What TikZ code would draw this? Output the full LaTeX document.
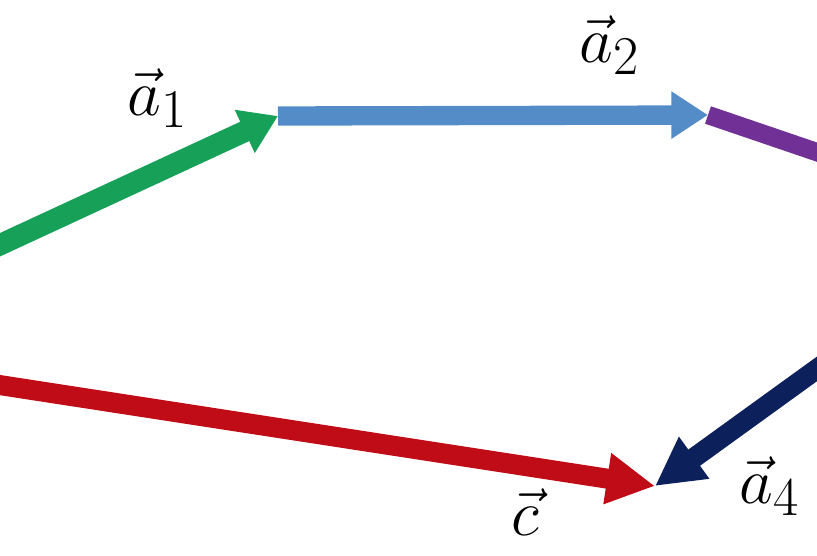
\documentclass[tikz,border=0pt]{standalone}
\usepackage{graphicx}
\usetikzlibrary{arrows.meta}
\definecolor{cgreen}{RGB}{22,160,88}
\definecolor{cblue}{RGB}{84,140,200}
\definecolor{cpurple}{RGB}{112,48,150}
\definecolor{cnavy}{RGB}{12,32,92}
\definecolor{cred}{RGB}{192,12,22}
\tikzset{
  vec/.style={line width=0.58cm, -{Triangle[length=1.1cm,width=1.35cm]}},
  vecbig/.style={line width=0.6cm, -{Triangle[length=1.45cm,width=1.45cm]}},
  vecplain/.style={line width=0.55cm},
  lbl/.style={font=\Huge, inner sep=0pt}
}
\newcommand{\biglbl}[1]{\scalebox{2.25}{#1}}
\begin{document}
\begin{tikzpicture}[x=0.03cm,y=-0.03cm]
\useasboundingbox (0,0) rectangle (817,555);
\coordinate (g0) at (-20,254);
\coordinate (A) at (278,116);
\coordinate (B) at (708,115);
\coordinate (p1) at (840,160);
\coordinate (n0) at (850,345);
\coordinate (D) at (655,486);
\coordinate (r0) at (-20,382);
\draw[vec, cgreen, line width=0.64cm] (g0) -- (A);
\draw[vec, cblue] (A) -- (B);
\draw[vecplain, cpurple] (B) -- (p1);
\draw[vecbig, cnavy] (n0) -- (D);
\draw[vecbig, cred] (r0) -- (D);
\node[lbl] (la1) at (158,98) {\biglbl{$\vec{a}_1$}};
\node[lbl] (la2) at (610,45) {\biglbl{$\vec{a}_2$}};
\node[lbl] (lc) at (525,512) {\biglbl{$\vec{c}$}};
\node[lbl] (la4) at (770,486) {\biglbl{$\vec{a}_4$}};
\end{tikzpicture}
\end{document}
